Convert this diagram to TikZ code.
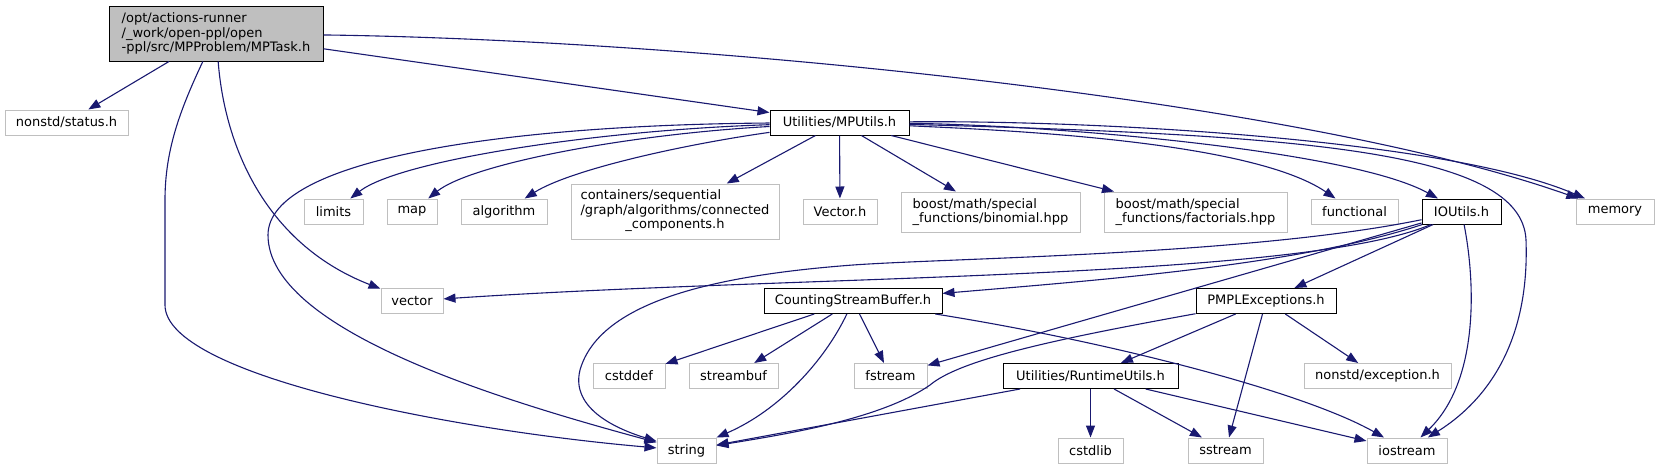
\documentclass[tikz,border=0pt]{standalone}
\usepackage{fontspec}
\setmainfont{DejaVu Sans}
\usetikzlibrary{arrows.meta}
\definecolor{edgeblue}{HTML}{191970}
\definecolor{boxgray}{HTML}{BFBFBF}

\begin{document}
\begin{tikzpicture}[
    x=1pt, y=-1pt,
    hdrbox/.style={rectangle, draw=boxgray, line width=1pt, inner sep=0pt, minimum height=25pt, font=\fontsize{13}{14.5}\selectfont},
    srcbox/.style={hdrbox, draw=black},
    incl/.style={->, >={Triangle[length=12pt, width=9pt]}, color=edgeblue, line width=1.1pt}
]
\useasboundingbox (0,0) rectangle (1659,469);

\node[srcbox, fill=boxgray, minimum width=214pt, minimum height=55pt, align=left] (task) at (216,33.5) {/opt/actions-runner\\/\_work/open-ppl/open\\-ppl/src/MPProblem/MPTask.h};
\node[hdrbox, minimum width=123pt] (status) at (66.5,122.5) {nonstd/status.h};
\node[srcbox, minimum width=139pt] (mpu) at (839.5,122.5) {Utilities/MPUtils.h};
\node[hdrbox, minimum width=59pt] (limits) at (333.5,211.5) {limits};
\node[hdrbox, minimum width=50pt] (map) at (412,211.5) {map};
\node[hdrbox, minimum width=86pt] (algo) at (504,211.5) {algorithm};
\node[hdrbox, minimum width=208pt, minimum height=55pt] (conn) at (675,211.5) {\begin{tabular}{@{}l@{}}containers/sequential\\/graph/algorithms/connected\\\multicolumn{1}{@{}c@{}}{\_components.h}\end{tabular}};
\node[hdrbox, minimum width=74pt] (vech) at (840,211.5) {Vector.h};
\node[hdrbox, minimum width=179pt, minimum height=40pt, align=left] (binom) at (990.5,212) {boost/math/special\\\_functions/binomial.hpp};
\node[hdrbox, minimum width=183pt, minimum height=40pt, align=left] (fact) at (1195.5,212) {boost/math/special\\\_functions/factorials.hpp};
\node[hdrbox, minimum width=87pt] (func) at (1354.5,211.5) {functional};
\node[srcbox, minimum width=79pt] (iou) at (1461.5,211.5) {IOUtils.h};
\node[hdrbox, minimum width=78pt] (mem) at (1615,211.5) {memory};
\node[hdrbox, minimum width=62pt] (vec) at (412,301) {vector};
\node[srcbox, minimum width=178pt] (csb) at (853,301) {CountingStreamBuffer.h};
\node[srcbox, minimum width=140pt] (pmpl) at (1266,301) {PMPLExceptions.h};
\node[hdrbox, minimum width=72pt] (cstddef) at (629,376) {cstddef};
\node[hdrbox, minimum width=89pt] (sbuf) at (733.5,376) {streambuf};
\node[hdrbox, minimum width=73pt] (fstr) at (890.5,376) {fstream};
\node[srcbox, minimum width=175pt] (rtu) at (1090.5,376) {Utilities/RuntimeUtils.h};
\node[hdrbox, minimum width=147pt] (exc) at (1377.5,376) {nonstd/exception.h};
\node[hdrbox, minimum width=59pt] (str) at (686.5,450.5) {string};
\node[hdrbox, minimum width=65pt] (cstdlib) at (1090.5,450.5) {cstdlib};
\node[hdrbox, minimum width=75pt] (sstr) at (1225.5,450.5) {sstream};
\node[hdrbox, minimum width=80pt] (iostr) at (1407,450.5) {iostream};

\draw[incl] (task) -- (status);
\draw[incl] (task) .. controls (180,110) and (165,150) .. (165,200) -- (165,305) .. controls (165,375) and (450,430) .. (str);
\draw[incl] (task) .. controls (225,150) and (268,245) .. (vec);
\draw[incl] (task) -- (mpu);
\draw[incl] (task) .. controls (700,40) and (1300,100) .. (mem);
\draw[incl] (mpu) .. controls (600,130) and (400,160) .. (limits);
\draw[incl] (mpu) .. controls (620,135) and (470,165) .. (map);
\draw[incl] (mpu) .. controls (680,145) and (570,170) .. (algo);
\draw[incl] (mpu) -- (conn);
\draw[incl] (mpu) -- (vech);
\draw[incl] (mpu) -- (binom);
\draw[incl] (mpu) -- (fact);
\draw[incl] (mpu) .. controls (1000,130) and (1250,140) .. (func);
\draw[incl] (mpu) .. controls (1050,125) and (1350,150) .. (iou);
\draw[incl] (mpu) .. controls (1100,120) and (1450,140) .. (mem);
\draw[incl] (mpu) .. controls (1300,135) and (1522,150) .. (1526,240) .. controls (1530,350) and (1480,405) .. (iostr);
\draw[incl] (mpu) .. controls (500,125) and (268,160) .. (268,235) .. controls (268,330) and (500,400) .. (str);
\draw[incl] (iou) .. controls (1300,280) and (800,275) .. (vec);
\draw[incl] (iou) .. controls (1300,265) and (1100,280) .. (csb);
\draw[incl] (iou) .. controls (1250,255) and (950,258) .. (853,265) .. controls (720,275) and (600,300) .. (580,370) .. controls (570,410) and (620,430) .. (str);
\draw[incl] (iou) -- (fstr);
\draw[incl] (iou) -- (pmpl);
\draw[incl] (iou) .. controls (1475,280) and (1480,380) .. (iostr);
\draw[incl] (csb) -- (cstddef);
\draw[incl] (csb) -- (sbuf);
\draw[incl] (csb) -- (fstr);
\draw[incl] (csb) .. controls (825,360) and (780,410) .. (str);
\draw[incl] (csb) .. controls (1100,340) and (1300,390) .. (iostr);
\draw[incl] (pmpl) -- (rtu);
\draw[incl] (pmpl) -- (sstr);
\draw[incl] (pmpl) -- (exc);
\draw[incl] (pmpl) .. controls (1050,340) and (960,360) .. (930,385) .. controls (880,420) and (780,435) .. (str);
\draw[incl] (rtu) -- (str);
\draw[incl] (rtu) -- (cstdlib);
\draw[incl] (rtu) -- (sstr);
\draw[incl] (rtu) -- (iostr);
\end{tikzpicture}
\end{document}
